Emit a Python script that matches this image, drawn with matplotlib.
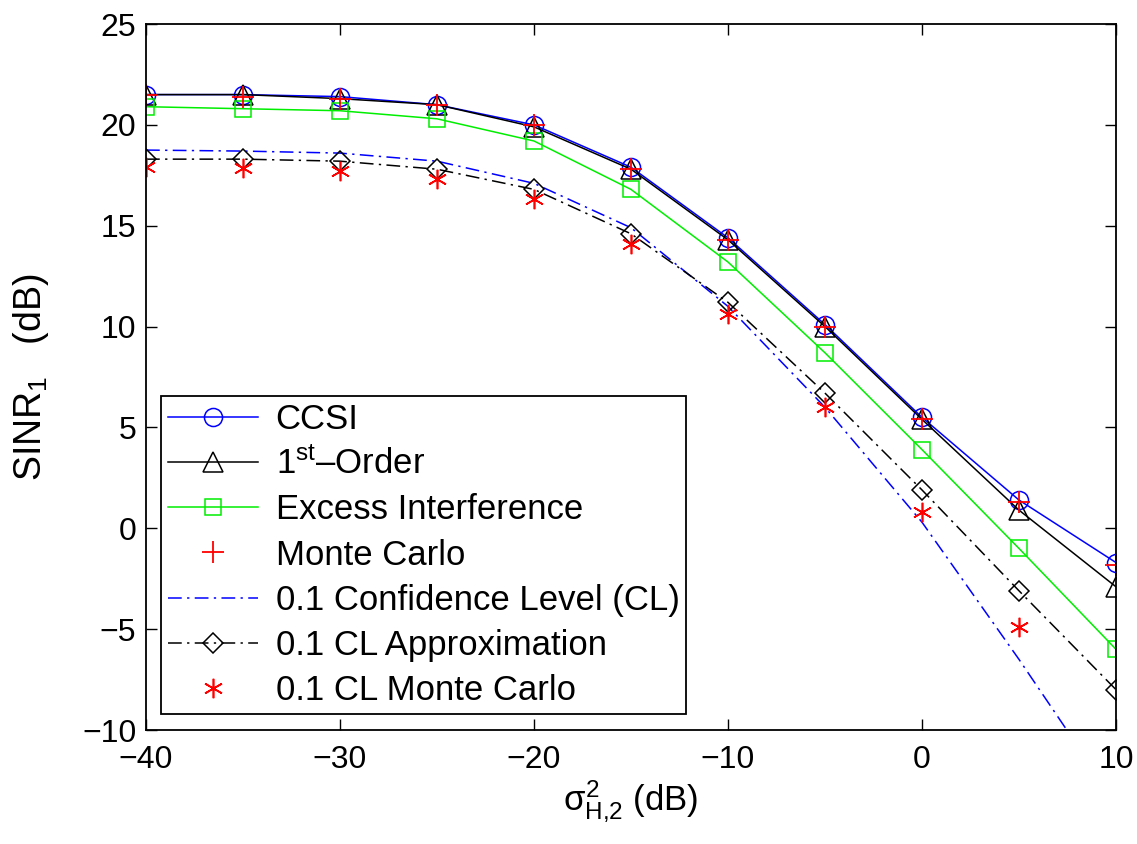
import numpy as np
import matplotlib
matplotlib.use("Agg")
import matplotlib.pyplot as plt

plt.rcParams['font.family'] = ['Liberation Sans', 'DejaVu Sans']
plt.rcParams['mathtext.fontset'] = 'custom'
plt.rcParams['mathtext.rm'] = 'Liberation Sans'
plt.rcParams['mathtext.it'] = 'Liberation Sans'
plt.rcParams['mathtext.bf'] = 'Liberation Sans:bold'

# x axis: sigma^2_{H,2} in dB
sigma_db = [-40, -35, -30, -25, -20, -15, -10, -5, 0, 5, 10]

# SINR_1 (dB)
ccsi = [21.5, 21.5, 21.4, 21.0, 20.0, 17.9, 14.4, 10.1, 5.5, 1.4, -1.7]
first_order = [21.5, 21.5, 21.3, 21.0, 19.9, 17.8, 14.3, 10.0, 5.4, 0.9, -2.9]
excess = [20.9, 20.8, 20.7, 20.3, 19.2, 16.8, 13.2, 8.7, 3.9, -1.0, -6.0]
monte_carlo = [21.5, 21.4, 21.3, 21.0, 20.0, 17.8, 14.3, 10.0, 5.4, 1.3, -1.8]
cl_exact = [18.75, 18.7, 18.6, 18.2, 17.1, 14.9, 11.0, 6.0, 0.3, -6.5, -13.6]
cl_approx = [18.3, 18.3, 18.2, 17.8, 16.8, 14.6, 11.2, 6.7, 1.9, -3.1, -8.0]
cl_monte_carlo = [17.9, 17.85, 17.7, 17.3, 16.3, 14.1, 10.6, 6.0, 0.8, -4.9, -11.5]

dashdot = (0, (9, 3.5, 1.5, 3.5))

fig = plt.figure(figsize=(11.37, 8.44), dpi=100)
ax = fig.add_axes([146 / 1137, 1 - 730 / 844, 970 / 1137, 706 / 844])

ax.plot(sigma_db, ccsi, color='blue', lw=1.1, marker='o', ms=13, mfc='none', mew=1.1,
        label='CCSI')
ax.plot(sigma_db, first_order, color='black', lw=1.1, marker='^', ms=14, mfc='none', mew=1.1,
        label='1$^{\\mathrm{st}}$\u2013Order')
ax.plot(sigma_db, excess, color='#00ee00', lw=1.1, marker='s', ms=11, mfc='none', mew=1.1,
        label='Excess Interference')
ax.plot(sigma_db, monte_carlo, color='red', ls='none', marker='+', ms=16, mew=1.3,
        label='Monte Carlo')
ax.plot(sigma_db, cl_exact, color='blue', lw=1.1, ls=dashdot,
        label='0.1 Confidence Level (CL)')
ax.plot(sigma_db, cl_approx, color='black', lw=1.1, ls=dashdot, marker='D', ms=10,
        mfc='none', mew=1.1, label='0.1 CL Approximation')
ax.plot(sigma_db, cl_monte_carlo, color='red', ls='none', marker=(6, 2, 0), ms=14, mew=1.2,
        label='0.1 CL Monte Carlo')

ax.set_xlim(-40, 10)
ax.set_ylim(-10, 25)
ax.set_xticks(np.arange(-40, 11, 10))
ax.set_yticks(np.arange(-10, 26, 5))
ax.set_xticklabels(['\u221240', '\u221230', '\u221220', '\u221210', '0', '10'])
ax.set_yticklabels(['\u221210', '\u22125', '0', '5', '10', '15', '20', '25'])
ax.tick_params(direction='in', length=8, width=1, top=True, right=True, labelsize=23)
ax.tick_params(axis='x', pad=11)
ax.tick_params(axis='y', pad=7)
for s in ax.spines.values():
    s.set_linewidth(1.3)

ax.set_xlabel('$\\sigma^2_{\\mathrm{H{,}2}}$ (dB)', fontsize=25, labelpad=2)
ax.set_ylabel('SINR$_1$   (dB)', fontsize=27, labelpad=22)

leg = ax.legend(loc='lower left', bbox_to_anchor=(0.0155, 0.0227), fontsize=25,
                frameon=True, fancybox=False, edgecolor='black', framealpha=1,
                handlelength=2.6, handletextpad=0.5, labelspacing=0.35,
                borderpad=0.2, borderaxespad=0)
leg.get_frame().set_linewidth(1.3)

fig.savefig('out.png', dpi=100)
